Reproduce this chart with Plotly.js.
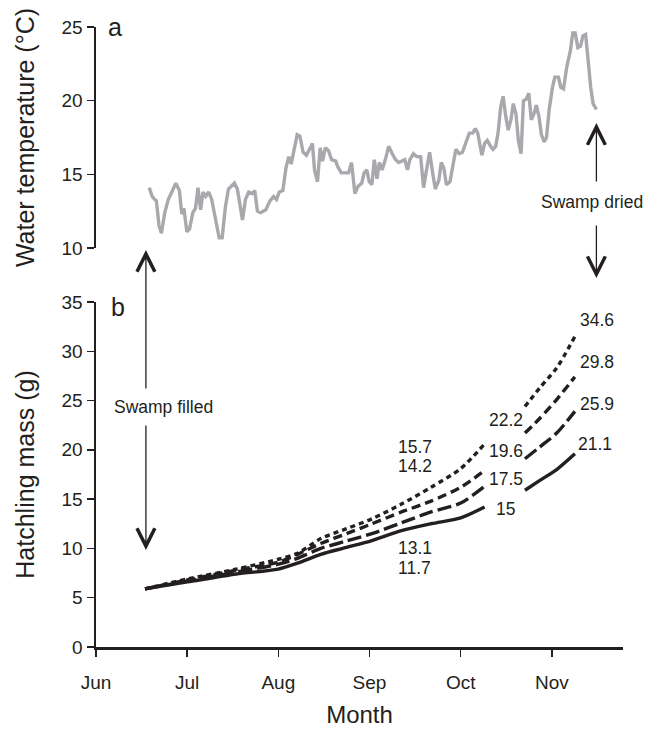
<!DOCTYPE html>
<html>
<head>
<meta charset="utf-8">
<script src="https://cdn.plot.ly/plotly-3.0.1.min.js"></script>
<style>html,body{margin:0;padding:0;background:#fff;}#chart{width:661px;height:732px;}</style>
</head>
<body>
<div id="chart"></div>
<script>
// Month ticks (days after 1 June)
var monthTickDays = [0, 30.5, 61, 91.5, 122, 152.5];
var monthLabels = ['Jun', 'Jul', 'Aug', 'Sep', 'Oct', 'Nov'];

// Panel a: water temperature (days after 1 June, deg C)
var tempDay = [17.8,18.8,19.6,20.2,21.1,21.9,23.0,24.2,25.6,26.7,27.9,28.7,29.4,30.4,31.3,32.4,33.3,34.1,35.0,35.8,36.7,37.7,38.7,39.8,41.2,42.2,43.3,44.3,45.5,46.3,47.3,48.3,49.0,50.0,51.1,52.3,53.1,54.0,55.1,56.8,58.2,59.4,60.4,61.3,62.5,63.6,64.5,65.3,66.5,67.3,68.2,69.3,70.4,71.6,72.4,73.1,74.1,75.0,75.8,76.7,77.8,78.8,80.2,80.9,82.1,83.5,84.5,85.5,86.6,87.7,88.9,89.7,90.6,91.4,92.3,93.1,94.0,94.8,95.7,96.8,97.9,99.1,100.2,101.3,102.5,103.3,104.2,105.0,106.2,107.3,108.6,109.6,110.4,111.6,112.7,113.5,114.7,115.5,116.4,117.2,118.4,119.5,120.4,121.5,122.6,123.8,124.9,126.0,126.9,127.7,128.6,129.1,130.0,130.9,132.0,132.8,133.7,134.5,135.4,136.2,137.1,137.9,138.8,139.6,140.5,141.3,142.2,143.0,143.9,144.8,145.6,146.5,147.3,148.2,149.0,149.9,150.7,151.6,152.7,153.5,154.7,155.5,156.4,157.5,158.7,159.5,160.3,161.2,162.1,162.9,163.8,164.6,165.5,166.3,167.4];
var tempC = [14.1,13.5,13.3,13.2,11.5,11.0,12.4,13.3,13.9,14.4,13.9,12.3,12.7,11.1,11.3,12.4,12.7,14.1,12.6,13.8,13.5,13.8,13.3,12.1,10.7,10.7,12.8,14.0,14.2,14.4,14.0,12.6,11.9,13.3,13.8,13.7,13.9,12.5,12.4,12.6,13.2,13.5,13.3,13.8,13.9,15.5,16.2,15.7,16.9,17.7,17.6,16.5,16.3,16.8,17.1,15.3,14.5,16.8,15.9,16.8,16.6,16.0,15.9,15.5,15.1,15.1,15.1,15.8,13.7,14.2,14.4,15.1,15.3,14.5,14.3,16.0,14.7,15.8,15.3,16.0,16.9,16.4,16.0,15.8,15.9,16.0,15.3,16.0,16.4,16.2,16.2,14.1,15.1,16.5,15.0,14.0,14.6,15.8,15.4,14.3,14.5,15.8,16.7,16.4,16.5,17.2,17.8,17.8,18.1,17.8,16.9,16.3,17.1,17.3,16.9,16.7,16.9,17.8,19.6,20.3,18.9,18.0,18.7,19.8,19.1,17.3,16.4,20.0,20.1,20.5,18.7,19.1,19.7,18.9,17.7,17.2,17.5,19.4,20.9,21.6,21.6,20.9,20.8,22.3,23.4,24.6,24.6,23.6,23.7,24.4,24.5,22.7,20.9,19.8,19.4];

// Panel b: hatchling mass (g); null = gap in the curve
var massDay = [16.4, 30.6, 46.9, 61.0, 67.4, 75.2, 83.8, 92.3, 102.2, 112.1, 122.0, 130.0, 137.0, 143.5, 148.5, 154.1, 160.2];
var massSolid  = [5.9, 6.6, 7.4, 7.9, 8.5, 9.4, 10.1, 10.8, 11.8, 12.5, 13.1, 14.2, null, 15.9, 16.9, 18.0, 19.6];
var massLong   = [5.9, 6.7, 7.6, 8.4, 9.0, 10.0, 10.75, 11.5, 12.6, 13.7, 14.6, 16.3, null, 19.1, 20.3, 21.7, 23.9];
var massMedium = [5.9, 6.8, 7.8, 8.6, 9.4, 10.5, 11.5, 12.5, 13.7, 14.8, 16.2, 17.9, null, 21.7, 23.2, 25.1, 27.4];
var massShort  = [5.9, 6.9, 7.9, 8.9, 9.5, 11.0, 12.0, 13.0, 14.5, 16.2, 18.1, 20.6, null, 24.4, 26.3, 28.3, 31.5];

// Value labels printed on panel b
var valueLabels = ['34.6', '29.8', '25.9', '21.1', '22.2', '19.6', '17.5', '15', '15.7', '14.2', '13.1', '11.7'];

var INK = '#231f20';
var FONT = 'Liberation Sans, Arial, Helvetica, sans-serif';

function massTrace(y, dash) {
  return {x: massDay, y: y, xaxis: 'x', yaxis: 'y', type: 'scatter', mode: 'lines',
    connectgaps: false, line: {color: INK, width: 3.4, dash: dash, shape: 'spline', smoothing: 0.8},
    hoverinfo: 'skip'};
}

var traces = [
  {x: tempDay, y: tempC, xaxis: 'x', yaxis: 'y2', type: 'scatter', mode: 'lines',
   line: {color: '#a7a9ac', width: 3.4}, hoverinfo: 'skip'},
  massTrace(massShort, '5px,4px'),
  massTrace(massMedium, '9px,5px'),
  massTrace(massLong, '14px,5px'),
  massTrace(massSolid, 'solid')
];

// label placement (day, mass) for each value label
var labelPos = [[167.5,33.2],[167.5,28.9],[167.5,24.7],[166.9,20.6],[137.0,23.0],[137.3,19.9],[137.0,17.0],[137.0,14.0],[106.6,20.3],[106.6,18.4],[106.6,10.0],[106.6,8.0]];

var ann = [];
valueLabels.forEach(function (t, i) {
  ann.push({text: t, x: labelPos[i][0], y: labelPos[i][1], xref: 'x', yref: 'y',
    xanchor: 'center', yanchor: 'middle',
    showarrow: false, font: {family: FONT, size: 17.5, color: INK}});
});

function arrow(day, tipPaper, ay) {
  return {text: '', x: day, y: tipPaper, xref: 'x', yref: 'paper', ax: 0, ay: ay,
    showarrow: true, arrowhead: 5, arrowsize: 2.7, arrowwidth: 1.3, arrowcolor: INK};
}
ann.push(arrow(16.7, 0.6403, 140));
ann.push(arrow(16.7, 0.1565, -126));
ann.push(arrow(167.4, 0.845, 60));
ann.push(arrow(167.4, 0.595, -54));
ann.push({text: 'Swamp filled', x: 0.03, y: 0.387, xref: 'paper', yref: 'paper', xanchor: 'left', yanchor: 'middle',
  showarrow: false, font: {family: FONT, size: 17.5, color: INK}});
ann.push({text: 'Swamp dried', x: 0.941, y: 0.718, xref: 'paper', yref: 'paper', xanchor: 'center', yanchor: 'middle',
  showarrow: false, font: {family: FONT, size: 17.5, color: INK}});
ann.push({text: 'a', x: 0.036, y: 1.0, xref: 'paper', yref: 'paper', xanchor: 'center', yanchor: 'middle',
  showarrow: false, font: {family: FONT, size: 25, color: INK}});
ann.push({text: 'b', x: 0.042, y: 0.548, xref: 'paper', yref: 'paper', xanchor: 'center', yanchor: 'middle',
  showarrow: false, font: {family: FONT, size: 25, color: INK}});

var layout = {
  width: 661, height: 732,
  margin: {l: 96, r: 38, t: 27, b: 85},
  paper_bgcolor: '#fff', plot_bgcolor: '#fff',
  showlegend: false,
  font: {family: FONT, color: INK},
  xaxis: {
    range: [0, 176.3], anchor: 'y',
    tickmode: 'array', tickvals: monthTickDays, ticktext: monthLabels,
    showgrid: false, zeroline: false, showline: true, linecolor: INK, linewidth: 2.5,
    ticks: 'outside', ticklen: 7, tickwidth: 1.5, tickcolor: INK,
    ticklabelstandoff: 10,
    tickfont: {family: FONT, size: 19, color: INK},
    title: {text: 'Month', font: {family: FONT, size: 24, color: INK}, standoff: 14}
  },
  yaxis: {
    domain: [0, 0.5565], range: [0, 35], anchor: 'x',
    tickvals: [0, 5, 10, 15, 20, 25, 30, 35],
    showgrid: false, zeroline: false, showline: true, linecolor: INK, linewidth: 2.5,
    ticks: 'outside', ticklen: 7, tickwidth: 1.5, tickcolor: INK,
    tickfont: {family: FONT, size: 19, color: INK},
    title: {text: 'Hatchling mass (g)', font: {family: FONT, size: 25, color: INK}}
  },
  yaxis2: {
    domain: [0.6435, 1], range: [10, 25], anchor: 'x',
    tickvals: [10, 15, 20, 25],
    showgrid: false, zeroline: false, showline: true, linecolor: INK, linewidth: 2.5,
    ticks: 'outside', ticklen: 7, tickwidth: 1.5, tickcolor: INK,
    tickfont: {family: FONT, size: 19, color: INK},
    title: {text: 'Water temperature (°C)', font: {family: FONT, size: 25, color: INK}}
  },
  annotations: ann
};

Plotly.newPlot('chart', traces, layout, {staticPlot: true, displayModeBar: false});
</script>
</body>
</html>
